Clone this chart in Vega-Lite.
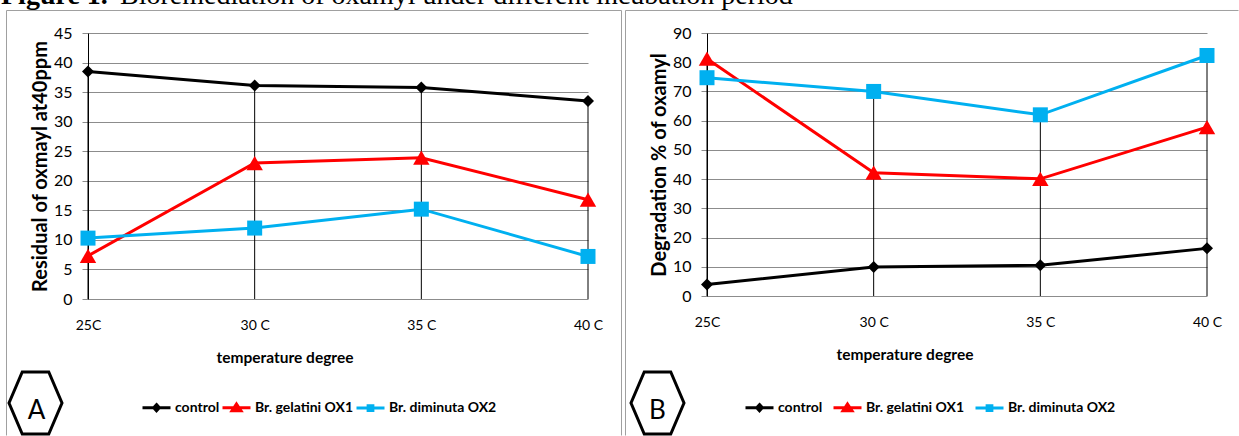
{
  "$schema": "https://vega.github.io/schema/vega-lite/v6.json",
  "padding": {"left": 1, "top": -18, "right": 0, "bottom": 0},
  "spacing": -622,
  "config": {
    "view": {"stroke": null},
    "font": "Lato, sans-serif",
    "axis": {"labelColor": "#000000", "titleColor": "#000000", "labelFont": "Lato, sans-serif", "titleFont": "Lato, sans-serif"},
    "axisY": {"tickCount": 10, "labelOverlap": false, "grid": true, "gridColor": "#8c8c8c", "gridOpacity": 1, "domainColor": "#000000", "tickColor": "#8c8c8c", "tickSize": 6, "labelPadding": 10, "labelFontSize": 16, "titleFontSize": 20, "titleFontWeight": "bold", "titlePadding": 3},
    "axisX": {"grid": false, "domain": false, "ticks": false, "labelPadding": 19, "labelFontSize": 14, "labelFlush": false, "labelOverlap": false, "titleFontSize": 15.5, "titleFontWeight": "bold"}
  },
  "datasets": {
    "residual": [
      {"temp": 25, "series": "control", "value": 38.5},
      {"temp": 30, "series": "control", "value": 36.1},
      {"temp": 35, "series": "control", "value": 35.8},
      {"temp": 40, "series": "control", "value": 33.5},
      {"temp": 25, "series": "Br. gelatini OX1", "value": 7.3},
      {"temp": 30, "series": "Br. gelatini OX1", "value": 23.0},
      {"temp": 35, "series": "Br. gelatini OX1", "value": 23.9},
      {"temp": 40, "series": "Br. gelatini OX1", "value": 16.8},
      {"temp": 25, "series": "Br. diminuta OX2", "value": 10.3},
      {"temp": 30, "series": "Br. diminuta OX2", "value": 12.0},
      {"temp": 35, "series": "Br. diminuta OX2", "value": 15.2},
      {"temp": 40, "series": "Br. diminuta OX2", "value": 7.2}
    ],
    "degradation": [
      {"temp": 25, "series": "control", "value": 3.9},
      {"temp": 30, "series": "control", "value": 9.9},
      {"temp": 35, "series": "control", "value": 10.5},
      {"temp": 40, "series": "control", "value": 16.3},
      {"temp": 25, "series": "Br. gelatini OX1", "value": 81.2},
      {"temp": 30, "series": "Br. gelatini OX1", "value": 42.2},
      {"temp": 35, "series": "Br. gelatini OX1", "value": 40.1},
      {"temp": 40, "series": "Br. gelatini OX1", "value": 57.8},
      {"temp": 25, "series": "Br. diminuta OX2", "value": 74.7},
      {"temp": 30, "series": "Br. diminuta OX2", "value": 70.0},
      {"temp": 35, "series": "Br. diminuta OX2", "value": 62.0},
      {"temp": 40, "series": "Br. diminuta OX2", "value": 82.3}
    ]
  },
  "resolve": {"scale": {"x": "independent", "y": "independent", "color": "independent"}, "legend": {"color": "independent"}},
  "hconcat": [
    {
      "width": 500,
      "height": 266,
      "data": {"name": "residual"},
      "layer": [
        {"data": {"values": [{}]}, "mark": {"type": "rule", "color": "#a0a0a0", "strokeWidth": 1},
         "encoding": {"x": {"datum": 22.555, "type": "quantitative", "scale": {"domain": [25, 40], "nice": false, "zero": false}}, "y": {"datum": 48.806, "type": "quantitative", "scale": {"domain": [0, 45], "nice": false}}, "y2": {"datum": -23.09}}},
        {"data": {"values": [{}]}, "mark": {"type": "rule", "color": "#a0a0a0", "strokeWidth": 1},
         "encoding": {"x": {"datum": 41.005, "type": "quantitative", "scale": {"domain": [25, 40], "nice": false, "zero": false}}, "y": {"datum": 48.806, "type": "quantitative", "scale": {"domain": [0, 45], "nice": false}}, "y2": {"datum": -23.09}}},
        {"data": {"values": [{}]}, "mark": {"type": "rule", "color": "#a0a0a0", "strokeWidth": 1},
         "encoding": {"x": {"datum": 22.555, "type": "quantitative", "scale": {"domain": [25, 40], "nice": false, "zero": false}}, "x2": {"datum": 41.005}, "y": {"datum": 48.806, "type": "quantitative", "scale": {"domain": [0, 45], "nice": false}}}},
        {"mark": {"type": "rule", "color": "#000000", "strokeWidth": 1},
         "encoding": {"x": {"field": "temp", "type": "quantitative", "scale": {"domain": [25, 40], "nice": false, "zero": false}}, "y": {"aggregate": "max", "field": "value", "type": "quantitative", "scale": {"domain": [0, 45], "nice": false}}, "y2": {"datum": 0}}},
        {"mark": {"type": "line", "strokeWidth": 3},
         "encoding": {
           "x": {"field": "temp", "type": "quantitative", "scale": {"domain": [25, 40], "nice": false, "zero": false},
                 "axis": {"values": [25, 30, 35, 40], "labelExpr": "datum.value == 25 ? '25C' : datum.value + ' C'", "title": "temperature degree", "titleX": 196.5, "titleY": 63, "titleBaseline": "alphabetic"}},
           "y": {"field": "value", "type": "quantitative", "scale": {"domain": [0, 45], "nice": false},
                 "axis": {"values": [0, 5, 10, 15, 20, 25, 30, 35, 40, 45], "title": "Residual of oxmayl  at40ppm"}},
           "color": {"field": "series", "type": "nominal", "scale": {"domain": ["control", "Br. gelatini OX1", "Br. diminuta OX2"], "range": ["#000000", "#FF0000", "#00B0F0"]},
                     "legend": {"orient": "none", "legendX": 53, "legendY": 359, "direction": "horizontal", "title": null, "symbolSize": 784, "symbolStrokeWidth": 3, "labelFontSize": 14, "labelFontWeight": "bold", "labelColor": "#000000", "labelOffset": 3, "columnPadding": -4, "padding": 0,
                                "encode": {"symbols": {"update": {
                                  "shape": {"signal": "datum.value === 'control' ? 'M-1,0H1M0,-0.22L0.2,0L0,0.22L-0.2,0Z' : datum.value === 'Br. gelatini OX1' ? 'M-1,0H1M0,-0.26L0.32,0.22L-0.32,0.22Z' : 'M-1,0H1M-0.17,-0.17H0.17V0.17H-0.17Z'"},
                                  "fill": {"signal": "datum.value === 'control' ? '#000000' : datum.value === 'Br. gelatini OX1' ? '#FF0000' : '#00B0F0'"},
                                  "opacity": {"value": 1}, "strokeWidth": {"value": 3}}}}}}
         }},
        {"transform": [{"filter": "datum.series === 'control'"}], "mark": {"type": "point", "filled": true, "opacity": 1, "shape": "diamond", "size": 144, "color": "#000000"},
         "encoding": {"x": {"field": "temp", "type": "quantitative", "scale": {"domain": [25, 40], "nice": false, "zero": false}}, "y": {"field": "value", "type": "quantitative", "scale": {"domain": [0, 45], "nice": false}}}},
        {"transform": [{"filter": "datum.series === 'Br. gelatini OX1'"}], "mark": {"type": "point", "filled": true, "opacity": 1, "shape": "triangle-up", "size": 270, "color": "#FF0000"},
         "encoding": {"x": {"field": "temp", "type": "quantitative", "scale": {"domain": [25, 40], "nice": false, "zero": false}}, "y": {"field": "value", "type": "quantitative", "scale": {"domain": [0, 45], "nice": false}}}},
        {"transform": [{"filter": "datum.series === 'Br. diminuta OX2'"}], "mark": {"type": "point", "filled": true, "opacity": 1, "shape": "square", "size": 225, "color": "#00B0F0"},
         "encoding": {"x": {"field": "temp", "type": "quantitative", "scale": {"domain": [25, 40], "nice": false, "zero": false}}, "y": {"field": "value", "type": "quantitative", "scale": {"domain": [0, 45], "nice": false}}}},
        {"data": {"values": [{}]}, "mark": {"type": "point", "shape": "M-0.5,-1.17L0.5,-1.17L1,0L0.5,1.17L-0.5,1.17L-1,0Z", "size": 2809, "filled": false, "stroke": "#000000", "strokeWidth": 3, "opacity": 1},
         "encoding": {"x": {"datum": 23.425, "type": "quantitative", "scale": {"domain": [25, 40], "nice": false, "zero": false}}, "y": {"datum": -17.59, "type": "quantitative", "scale": {"domain": [0, 45], "nice": false}}}},
        {"data": {"values": [{}]}, "mark": {"type": "text", "fontSize": 26, "baseline": "middle", "align": "center", "color": "#000000"},
         "encoding": {"x": {"datum": 23.455, "type": "quantitative", "scale": {"domain": [25, 40], "nice": false, "zero": false}}, "y": {"datum": -18.95, "type": "quantitative", "scale": {"domain": [0, 45], "nice": false}}, "text": {"value": "A"}}}
      ]
    },
    {
      "width": 500,
      "height": 263,
      "data": {"name": "degradation"},
      "layer": [
        {"data": {"values": [{}]}, "mark": {"type": "rule", "color": "#a0a0a0", "strokeWidth": 1},
         "encoding": {"x": {"datum": 22.555, "type": "quantitative", "scale": {"domain": [25, 40], "nice": false, "zero": false}}, "y": {"datum": 97.70, "type": "quantitative", "scale": {"domain": [0, 90], "nice": false}}, "y2": {"datum": -47.74}}},
        {"data": {"values": [{}]}, "mark": {"type": "rule", "color": "#a0a0a0", "strokeWidth": 1},
         "encoding": {"x": {"datum": 22.555, "type": "quantitative", "scale": {"domain": [25, 40], "nice": false, "zero": false}}, "x2": {"datum": 40.945}, "y": {"datum": 97.70, "type": "quantitative", "scale": {"domain": [0, 90], "nice": false}}}},
        {"data": {"values": [{}]}, "mark": {"type": "text", "font": "Liberation Serif, DejaVu Serif, serif", "fontSize": 28, "fontWeight": "bold", "baseline": "top", "align": "left", "color": "#000000"},
         "encoding": {"x": {"datum": 3.82, "type": "quantitative", "scale": {"domain": [25, 40], "nice": false, "zero": false}}, "y": {"datum": 107.45, "type": "quantitative", "scale": {"domain": [0, 90], "nice": false}}, "text": {"value": "Figure 1."}}},
        {"data": {"values": [{}]}, "mark": {"type": "text", "font": "Liberation Serif, DejaVu Serif, serif", "fontSize": 28, "baseline": "top", "align": "left", "color": "#000000"},
         "encoding": {"x": {"datum": 7.39, "type": "quantitative", "scale": {"domain": [25, 40], "nice": false, "zero": false}}, "y": {"datum": 107.45, "type": "quantitative", "scale": {"domain": [0, 90], "nice": false}}, "text": {"value": "Bioremediation of oxamyl under different incubation period"}}},
        {"mark": {"type": "rule", "color": "#000000", "strokeWidth": 1},
         "encoding": {"x": {"field": "temp", "type": "quantitative", "scale": {"domain": [25, 40], "nice": false, "zero": false}}, "y": {"aggregate": "max", "field": "value", "type": "quantitative", "scale": {"domain": [0, 90], "nice": false}}, "y2": {"datum": 0}}},
        {"mark": {"type": "line", "strokeWidth": 3},
         "encoding": {
           "x": {"field": "temp", "type": "quantitative", "scale": {"domain": [25, 40], "nice": false, "zero": false},
                 "axis": {"values": [25, 30, 35, 40], "labelExpr": "datum.value == 25 ? '25C' : datum.value + ' C'", "title": "temperature degree", "titleX": 197.5, "titleY": 63, "titleBaseline": "alphabetic"}},
           "y": {"field": "value", "type": "quantitative", "scale": {"domain": [0, 90], "nice": false},
                 "axis": {"values": [0, 10, 20, 30, 40, 50, 60, 70, 80, 90], "title": "Degradation % of oxamyl"}},
           "color": {"field": "series", "type": "nominal", "scale": {"domain": ["control", "Br. gelatini OX1", "Br. diminuta OX2"], "range": ["#000000", "#FF0000", "#00B0F0"]},
                     "legend": {"orient": "none", "legendX": 37, "legendY": 359, "direction": "horizontal", "title": null, "symbolSize": 784, "symbolStrokeWidth": 3, "labelFontSize": 14, "labelFontWeight": "bold", "labelColor": "#000000", "labelOffset": 3, "columnPadding": 4, "padding": 0,
                                "encode": {"symbols": {"update": {
                                  "shape": {"signal": "datum.value === 'control' ? 'M-1,0H1M0,-0.22L0.2,0L0,0.22L-0.2,0Z' : datum.value === 'Br. gelatini OX1' ? 'M-1,0H1M0,-0.26L0.32,0.22L-0.32,0.22Z' : 'M-1,0H1M-0.17,-0.17H0.17V0.17H-0.17Z'"},
                                  "fill": {"signal": "datum.value === 'control' ? '#000000' : datum.value === 'Br. gelatini OX1' ? '#FF0000' : '#00B0F0'"},
                                  "opacity": {"value": 1}, "strokeWidth": {"value": 3}}}}}}
         }},
        {"transform": [{"filter": "datum.series === 'control'"}], "mark": {"type": "point", "filled": true, "opacity": 1, "shape": "diamond", "size": 144, "color": "#000000"},
         "encoding": {"x": {"field": "temp", "type": "quantitative", "scale": {"domain": [25, 40], "nice": false, "zero": false}}, "y": {"field": "value", "type": "quantitative", "scale": {"domain": [0, 90], "nice": false}}}},
        {"transform": [{"filter": "datum.series === 'Br. gelatini OX1'"}], "mark": {"type": "point", "filled": true, "opacity": 1, "shape": "triangle-up", "size": 270, "color": "#FF0000"},
         "encoding": {"x": {"field": "temp", "type": "quantitative", "scale": {"domain": [25, 40], "nice": false, "zero": false}}, "y": {"field": "value", "type": "quantitative", "scale": {"domain": [0, 90], "nice": false}}}},
        {"transform": [{"filter": "datum.series === 'Br. diminuta OX2'"}], "mark": {"type": "point", "filled": true, "opacity": 1, "shape": "square", "size": 225, "color": "#00B0F0"},
         "encoding": {"x": {"field": "temp", "type": "quantitative", "scale": {"domain": [25, 40], "nice": false, "zero": false}}, "y": {"field": "value", "type": "quantitative", "scale": {"domain": [0, 90], "nice": false}}}},
        {"data": {"values": [{}]}, "mark": {"type": "point", "shape": "M-0.5,-1.17L0.5,-1.17L1,0L0.5,1.17L-0.5,1.17L-1,0Z", "size": 2809, "filled": false, "stroke": "#000000", "strokeWidth": 3, "opacity": 1},
         "encoding": {"x": {"datum": 23.515, "type": "quantitative", "scale": {"domain": [25, 40], "nice": false, "zero": false}}, "y": {"datum": -36.62, "type": "quantitative", "scale": {"domain": [0, 90], "nice": false}}}},
        {"data": {"values": [{}]}, "mark": {"type": "text", "fontSize": 26, "baseline": "middle", "align": "center", "color": "#000000"},
         "encoding": {"x": {"datum": 23.515, "type": "quantitative", "scale": {"domain": [25, 40], "nice": false, "zero": false}}, "y": {"datum": -39.35, "type": "quantitative", "scale": {"domain": [0, 90], "nice": false}}, "text": {"value": "B"}}}
      ]
    }
  ]
}
